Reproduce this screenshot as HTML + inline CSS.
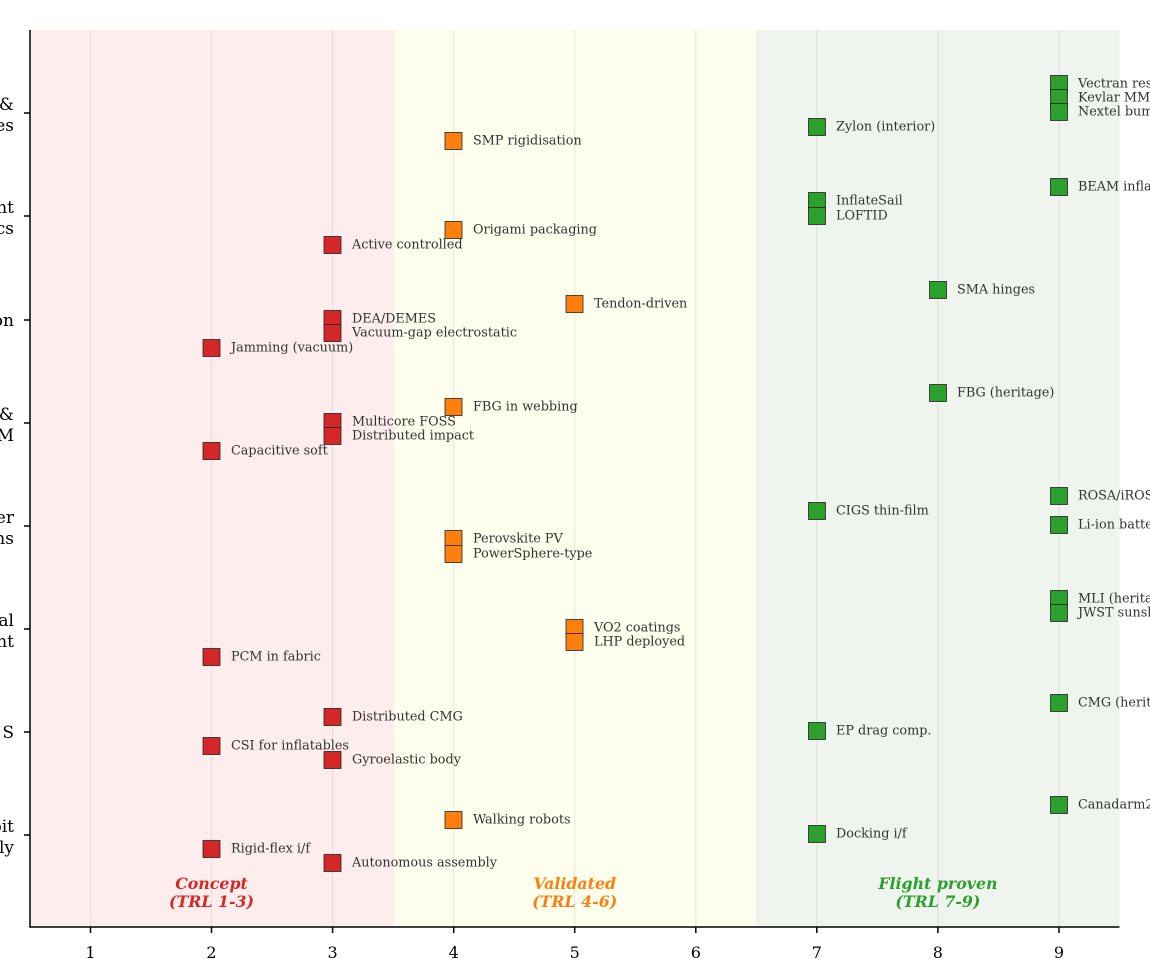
<!DOCTYPE html>
<html><head><meta charset="utf-8"><style>
html,body{margin:0;padding:0;background:#fff;width:1150px;height:959px;overflow:hidden}
svg{display:block}
text{font-family:"DejaVu Serif","Liberation Serif",serif}
.l{font-size:12.8px;fill:#333;dominant-baseline:central}
.t{font-size:16px;fill:#000}
.y{font-size:17px;fill:#000}
.b{font-size:15.8px;font-weight:bold;font-style:italic;text-anchor:middle}
</style></head><body>
<svg width="1150" height="959" viewBox="0 0 1150 959" xmlns="http://www.w3.org/2000/svg">
<rect x="30" y="30" width="364" height="897" fill="#fdeeed"/>
<rect x="394" y="30" width="362" height="897" fill="#fefeee"/>
<rect x="756" y="30" width="363.5" height="897" fill="#eff5ee"/>
<g stroke="#ccc" stroke-opacity="0.5" stroke-width="1">
<line x1="90.5" y1="30" x2="90.5" y2="927"/><line x1="211.5" y1="30" x2="211.5" y2="927"/><line x1="332.6" y1="30" x2="332.6" y2="927"/><line x1="453.7" y1="30" x2="453.7" y2="927"/><line x1="574.7" y1="30" x2="574.7" y2="927"/><line x1="695.8" y1="30" x2="695.8" y2="927"/><line x1="816.8" y1="30" x2="816.8" y2="927"/><line x1="937.9" y1="30" x2="937.9" y2="927"/><line x1="1059" y1="30" x2="1059" y2="927"/>
</g>
<g stroke="#000" stroke-width="1.5">
<line x1="30" y1="30" x2="30" y2="927.5"/><line x1="29.3" y1="927" x2="1119.5" y2="927"/>
<line x1="24" y1="113" x2="30" y2="113"/><line x1="24" y1="216" x2="30" y2="216"/><line x1="24" y1="320" x2="30" y2="320"/><line x1="24" y1="423" x2="30" y2="423"/><line x1="24" y1="526" x2="30" y2="526"/><line x1="24" y1="629" x2="30" y2="629"/><line x1="24" y1="732" x2="30" y2="732"/><line x1="24" y1="835" x2="30" y2="835"/>
<line x1="90.5" y1="927" x2="90.5" y2="933"/><line x1="211.5" y1="927" x2="211.5" y2="933"/><line x1="332.6" y1="927" x2="332.6" y2="933"/><line x1="453.7" y1="927" x2="453.7" y2="933"/><line x1="574.7" y1="927" x2="574.7" y2="933"/><line x1="695.8" y1="927" x2="695.8" y2="933"/><line x1="816.8" y1="927" x2="816.8" y2="933"/><line x1="937.9" y1="927" x2="937.9" y2="933"/><line x1="1059" y1="927" x2="1059" y2="933"/>
</g>
<g class="t" text-anchor="middle">
<text x="90.5" y="958">1</text><text x="211.5" y="958">2</text><text x="332.6" y="958">3</text><text x="453.7" y="958">4</text><text x="574.7" y="958">5</text><text x="695.8" y="958">6</text><text x="816.8" y="958">7</text><text x="937.9" y="958">8</text><text x="1059" y="958">9</text>
</g>
<g class="y" text-anchor="end">
<text x="14" y="110">Materials &amp;</text><text x="14" y="131">Structures</text>
<text x="14" y="213">Deployment</text><text x="14" y="234">Mechanics</text>
<text x="14" y="326">Actuation</text>
<text x="14" y="420">Sensing &amp;</text><text x="14" y="441">SHM</text>
<text x="14" y="523">Power</text><text x="14" y="544">Systems</text>
<text x="14" y="626">Thermal</text><text x="14" y="647">Management</text>
<text x="14" y="738">GNC / S</text>
<text x="14" y="832">In-orbit</text><text x="14" y="853">Assembly</text>
</g>
<g stroke="#222" stroke-width="0.8">
<g fill="#2ca02c">
<rect x="1050.5" y="75.5" width="17" height="17"/><rect x="1050.5" y="89.5" width="17" height="17"/><rect x="1050.5" y="103.5" width="17" height="17"/><rect x="808.5" y="118.5" width="17" height="17"/>
<rect x="1050.5" y="178.5" width="17" height="17"/><rect x="808.5" y="192.5" width="17" height="17"/><rect x="808.5" y="207.5" width="17" height="17"/>
<rect x="929.5" y="281.5" width="17" height="17"/><rect x="929.5" y="384.5" width="17" height="17"/>
<rect x="1050.5" y="487.5" width="17" height="17"/><rect x="808.5" y="502.5" width="17" height="17"/><rect x="1050.5" y="516.5" width="17" height="17"/>
<rect x="1050.5" y="590.5" width="17" height="17"/><rect x="1050.5" y="604.5" width="17" height="17"/>
<rect x="1050.5" y="694.5" width="17" height="17"/><rect x="808.5" y="722.5" width="17" height="17"/>
<rect x="1050.5" y="796.5" width="17" height="17"/><rect x="808.5" y="825.5" width="17" height="17"/>
</g>
<g fill="#ff7f0e">
<rect x="445" y="132.5" width="17" height="17"/><rect x="445" y="221.5" width="17" height="17"/><rect x="566" y="295.5" width="17" height="17"/><rect x="445" y="398.5" width="17" height="17"/>
<rect x="445" y="530.5" width="17" height="17"/><rect x="445" y="545.5" width="17" height="17"/><rect x="566" y="619.5" width="17" height="17"/><rect x="566" y="633.5" width="17" height="17"/><rect x="445" y="811.5" width="17" height="17"/>
</g>
<g fill="#d62728">
<rect x="324" y="236.5" width="17" height="17"/><rect x="324" y="310.5" width="17" height="17"/><rect x="324" y="324.5" width="17" height="17"/><rect x="203" y="339.5" width="17" height="17"/>
<rect x="324" y="413.5" width="17" height="17"/><rect x="324" y="427.5" width="17" height="17"/><rect x="203" y="442.5" width="17" height="17"/>
<rect x="203" y="648.5" width="17" height="17"/><rect x="324" y="708.5" width="17" height="17"/><rect x="203" y="737.5" width="17" height="17"/><rect x="324" y="751.5" width="17" height="17"/>
<rect x="203" y="840.5" width="17" height="17"/><rect x="324" y="854.5" width="17" height="17"/>
</g>
</g>
<g class="l">
<text x="1078" y="84">Vectran restraint</text><text x="1078" y="98">Kevlar MMOD</text><text x="1078" y="112">Nextel bumper</text><text x="836" y="127">Zylon (interior)</text><text x="473" y="141">SMP rigidisation</text>
<text x="1078" y="187">BEAM inflatable</text><text x="836" y="201">InflateSail</text><text x="836" y="216">LOFTID</text><text x="473" y="230">Origami packaging</text><text x="352" y="245">Active controlled</text>
<text x="957" y="290">SMA hinges</text><text x="594" y="304">Tendon-driven</text><text x="352" y="319">DEA/DEMES</text><text x="352" y="333">Vacuum-gap electrostatic</text><text x="231" y="348">Jamming (vacuum)</text>
<text x="957" y="393">FBG (heritage)</text><text x="473" y="407">FBG in webbing</text><text x="352" y="422">Multicore FOSS</text><text x="352" y="436">Distributed impact</text><text x="231" y="451">Capacitive soft</text>
<text x="1078" y="496">ROSA/iROSA</text><text x="836" y="511">CIGS thin-film</text><text x="1078" y="525">Li-ion battery</text><text x="473" y="539">Perovskite PV</text><text x="473" y="554">PowerSphere-type</text>
<text x="1078" y="599">MLI (heritage)</text><text x="1078" y="613">JWST sunshield</text><text x="594" y="628">VO2 coatings</text><text x="594" y="642">LHP deployed</text><text x="231" y="657">PCM in fabric</text>
<text x="1078" y="703">CMG (heritage)</text><text x="352" y="717">Distributed CMG</text><text x="836" y="731">EP drag comp.</text><text x="231" y="746">CSI for inflatables</text><text x="352" y="760">Gyroelastic body</text>
<text x="1078" y="805">Canadarm2</text><text x="473" y="820">Walking robots</text><text x="836" y="834">Docking i/f</text><text x="231" y="849">Rigid-flex i/f</text><text x="352" y="863">Autonomous assembly</text>
</g>
<text class="b" x="211.5" y="889" fill="#d62728">Concept</text><text class="b" x="211.5" y="907" fill="#d62728">(TRL 1-3)</text>
<text class="b" x="574.7" y="889" fill="#ff7f0e">Validated</text><text class="b" x="574.7" y="907" fill="#ff7f0e">(TRL 4-6)</text>
<text class="b" x="937.9" y="889" fill="#2ca02c">Flight proven</text><text class="b" x="937.9" y="907" fill="#2ca02c">(TRL 7-9)</text>
</svg>
</body></html>
